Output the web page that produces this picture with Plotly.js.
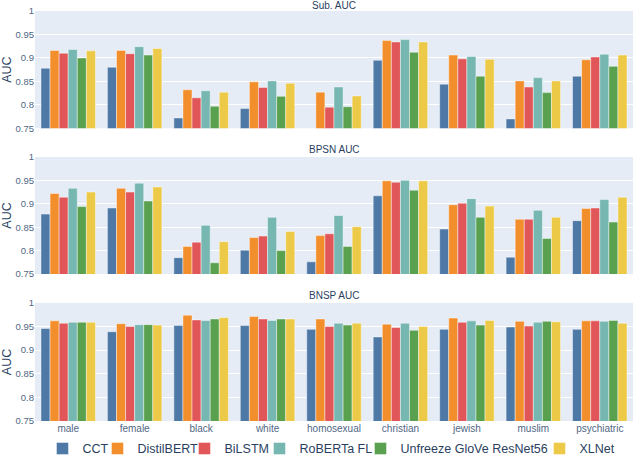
<!DOCTYPE html>
<html>
<head>
<meta charset="utf-8">
<script src="https://cdn.plot.ly/plotly-3.0.1.min.js"></script>
<style>html,body{margin:0;padding:0;background:#fff;}#chart{width:640px;height:457px;}</style>
</head>
<body>
<div id="chart"></div>
<script>
const categories = ["male","female","black","white","homosexual","christian","jewish","muslim","psychiatric"];
const seriesNames = ["CCT","DistilBERT","BiLSTM","RoBERTa FL","Unfreeze GloVe ResNet56","XLNet"];
const colors = ["#4e79a7","#f28e2b","#e15759","#76b7b2","#59a14f","#edc948"];
const panelTitles = ["Sub. AUC","BPSN AUC","BNSP AUC"];

// Sub. AUC
const subCCT    = [0.878,0.880,0.772,0.792,0.740,0.895,0.844,0.770,0.861];
const subDistil = [0.916,0.916,0.832,0.849,0.827,0.937,0.906,0.851,0.896];
const subBiLSTM = [0.910,0.909,0.815,0.837,0.795,0.934,0.898,0.838,0.902];
const subRoBERTa= [0.918,0.924,0.830,0.851,0.838,0.939,0.903,0.858,0.908];
const subGloVe  = [0.900,0.906,0.797,0.818,0.796,0.912,0.861,0.826,0.882];
const subXLNet  = [0.915,0.920,0.827,0.846,0.819,0.934,0.897,0.851,0.906];

// BPSN AUC
const bpsnCCT    = [0.878,0.891,0.785,0.801,0.776,0.917,0.846,0.786,0.864];
const bpsnDistil = [0.922,0.933,0.809,0.828,0.832,0.949,0.898,0.867,0.890];
const bpsnBiLSTM = [0.914,0.925,0.818,0.831,0.836,0.946,0.901,0.867,0.891];
const bpsnRoBERTa= [0.933,0.944,0.854,0.871,0.875,0.950,0.911,0.886,0.909];
const bpsnGloVe  = [0.894,0.906,0.774,0.800,0.809,0.929,0.871,0.826,0.861];
const bpsnXLNet  = [0.925,0.936,0.819,0.841,0.851,0.949,0.895,0.871,0.914];

// BNSP AUC
const bnspCCT    = [0.946,0.939,0.952,0.952,0.944,0.928,0.944,0.949,0.944];
const bnspDistil = [0.962,0.956,0.974,0.971,0.966,0.955,0.968,0.961,0.962];
const bnspBiLSTM = [0.957,0.950,0.964,0.966,0.950,0.948,0.959,0.951,0.962];
const bnspRoBERTa= [0.959,0.954,0.963,0.963,0.957,0.957,0.962,0.959,0.961];
const bnspGloVe  = [0.959,0.954,0.966,0.966,0.953,0.942,0.953,0.961,0.963];
const bnspXLNet  = [0.959,0.953,0.969,0.966,0.957,0.950,0.963,0.960,0.957];

const panels = [
  {data:[subCCT,subDistil,subBiLSTM,subRoBERTa,subGloVe,subXLNet], xa:"x", ya:"y"},
  {data:[bpsnCCT,bpsnDistil,bpsnBiLSTM,bpsnRoBERTa,bpsnGloVe,bpsnXLNet], xa:"x2", ya:"y2"},
  {data:[bnspCCT,bnspDistil,bnspBiLSTM,bnspRoBERTa,bnspGloVe,bnspXLNet], xa:"x3", ya:"y3"}
];

// legend entry widths (px) so the single-row legend spacing follows the reference
const legendWidths = [10, 42, 30, 56, 134, 37];

const traces = [];
panels.forEach((p, pi) => {
  p.data.forEach((vals, si) => {
    traces.push({
      type:"bar", x:categories, y:vals, name:seriesNames[si],
      marker:{color:colors[si], line:{color:"rgba(255,255,255,0.55)", width:0.8}},
      xaxis:p.xa, yaxis:p.ya, showlegend: pi===0, legendwidth: legendWidths[si]
    });
  });
});

const FONT = "Liberation Sans, Arial, Helvetica, sans-serif";
const yCommon = {range:[0.75,1], dtick:0.05, tickfont:{size:9.5, color:"#506784"},
  title:{text:"AUC", font:{size:12.5, color:"#2a3f5f"}}, gridcolor:"#fff", gridwidth:1, zeroline:false, automargin:false};
const xCommon = {tickfont:{size:10, color:"#506784"}, showgrid:false, automargin:false};

const domains = [[0.714,1],[0.3585,0.644],[0,0.288]];

const layout = {
  width:640, height:457,
  margin:{l:35, r:7, t:11, b:36, autoexpand:false},
  paper_bgcolor:"#fff", plot_bgcolor:"#E5ECF6",
  barmode:"group", bargap:0.18, bargroupgap:0.0,
  font:{family:FONT, color:"#2a3f5f"},
  xaxis:Object.assign({}, xCommon, {anchor:"y", showticklabels:false, domain:[0,1]}),
  xaxis2:Object.assign({}, xCommon, {anchor:"y2", showticklabels:false, domain:[0,1], matches:"x"}),
  xaxis3:Object.assign({}, xCommon, {anchor:"y3", domain:[0,1], matches:"x"}),
  yaxis:Object.assign({}, yCommon, {domain:domains[0]}),
  yaxis2:Object.assign({}, yCommon, {domain:domains[1]}),
  yaxis3:Object.assign({}, yCommon, {domain:domains[2]}),
  legend:{orientation:"h", x:0.0125, xanchor:"left", y:-0.068, yanchor:"middle", bgcolor:"rgba(0,0,0,0)",
    font:{size:12.5, color:"#2a3f5f"}, traceorder:"normal", tracegroupgap:0, itemwidth:30},
  annotations: panelTitles.map((t, i) => ({
    text:t, x:0.5, xref:"paper", y:domains[i][1], yref:"paper", yanchor:"middle", yshift: i===0 ? 6 : 7,
    showarrow:false, font:{size:10, color:"#2a3f5f"}
  }))
};

Plotly.newPlot("chart", traces, layout, {displayModeBar:false, staticPlot:true});
</script>
</body>
</html>
